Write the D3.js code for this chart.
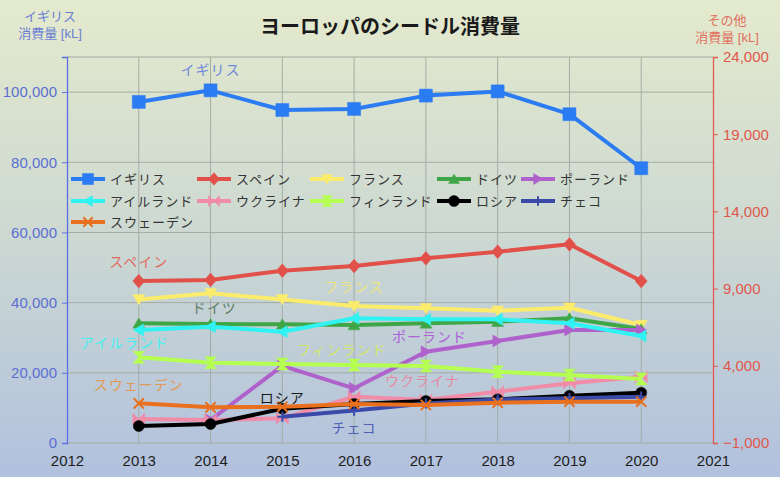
<!DOCTYPE html>
<html><head><meta charset="utf-8">
<script src="https://cdn.jsdelivr.net/npm/d3@7"></script>
<style>
body{margin:0;padding:0;}
svg{display:block;font-family:'Liberation Sans','Noto Sans CJK JP',sans-serif;}
</style></head>
<body><svg id="c" width="780" height="477"></svg>
<script>
// ---- data ----
const years = [2013, 2014, 2015, 2016, 2017, 2018, 2019, 2020];
const xTicks = [2012, 2013, 2014, 2015, 2016, 2017, 2018, 2019, 2020, 2021];
const leftTicks = [0, 20000, 40000, 60000, 80000, 100000];
const rightTicks = [-1000, 4000, 9000, 14000, 19000, 24000];
const seriesNames = ["イギリス","スペイン","フランス","ドイツ","ポーランド","アイルランド","ウクライナ","フィンランド","ロシア","チェコ","スウェーデン"];
const uk      = [97200, 100500, 94900, 95200, 99000, 100200, 93700, 78300];
const spain   = [9490, 9560, 10160, 10460, 10960, 11390, 11870, 9490];
const france  = [8300, 8700, 8300, 7870, 7720, 7570, 7760, 6640];
const germany = [6750, 6710, 6690, 6640, 6750, 6860, 7080, 6380];
const poland  = [null, 490, 3990, 2540, 4910, 5610, 6320, 6320];
const ireland = [6320, 6530, 6210, 7080, 7010, 7010, 6750, 5930];
const ukraine = [550, 490, 600, 2000, 1790, 2320, 2870, 3290];
const finland = [4550, 4200, 4120, 4050, 3990, 3620, 3400, 3150];
const russia  = [100, 230, 1220, 1530, 1720, 1830, 2060, 2260];
const czech   = [null, null, 700, 1100, 1560, 1820, 1900, 2000];
const sweden  = [1570, 1310, 1350, 1530, 1460, 1610, 1675, 1675];
const seriesValues = [uk, spain, france, germany, poland, ireland, ukraine, finland, russia, czech, sweden];
const lineColors = ["#2b7cf2","#e2504a","#fbec6c","#3fa648","#b062cc","#30f2f2","#f08ca8","#b4ff50","#000000","#3a4aa8","#e8701e"];
const labelColors = ["#6f88d8","#e06c60","#ece47a","#5e7c66","#b060d8","#3ff2ee","#e48aa4","#d4e66a","#1a1a1a","#5060b8","#e09a58"];
const markerTypes = ["square","diamond","down","up","right","left","bowtie","hourglass","circle","plus","x"];
// in-plot label anchor (year, axis value)
const labelAt = [[2014.0,106300],[2013.0,10720],[2016.0,9100],[2014.05,7750],[2017.05,5870],[2012.8,5480],[2016.95,3020],[2015.83,5020],[2015.0,1900],[2016.0,-30],[2013.0,2760]];

// ---- layout ----
const svg = d3.select("#c");
const W = 780, H = 477;
const x = d3.scaleLinear().domain([2012, 2021]).range([67, 713]);
const yL = d3.scaleLinear().domain([0, 110000]).range([443, 57]);
const yR = d3.scaleLinear().domain([-1000, 24000]).range([443, 57]);
const fmt = d3.format(",");

const defs = svg.append("defs");
const lg = defs.append("linearGradient").attr("id","bg").attr("x1",0).attr("y1",0).attr("x2",0).attr("y2",1);
lg.append("stop").attr("offset","0").attr("stop-color","#e4eacd");
lg.append("stop").attr("offset","0.5").attr("stop-color","#ccd8d2");
lg.append("stop").attr("offset","1").attr("stop-color","#b1c1de");
svg.append("rect").attr("width",W).attr("height",H).attr("fill","url(#bg)");

// grid
const g = svg.append("g");
g.selectAll(".hg").data(leftTicks.concat([110000])).enter().append("line")
  .attr("x1",x(2012)).attr("x2",x(2021)).attr("y1",d=>yL(d)).attr("y2",d=>yL(d))
  .attr("stroke","#a4aca4").attr("stroke-width",1);
g.selectAll(".vg").data(years).enter().append("line")
  .attr("x1",d=>x(d)).attr("x2",d=>x(d)).attr("y1",yL(110000)).attr("y2",yL(0))
  .attr("stroke","#a4aca4").attr("stroke-width",1);

// axes
const axL = svg.append("g").attr("transform",`translate(${x(2012)},0)`)
  .call(d3.axisLeft(yL).tickValues(leftTicks).tickFormat(fmt).tickSize(5).tickPadding(5));
axL.select(".domain").attr("stroke","#5a6ee6").attr("stroke-width",1.3);
axL.selectAll(".tick line").attr("stroke","#5a6ee6");
axL.selectAll("text").attr("fill","#5b6fd2").style("font-size","15px").style("font-family","'Liberation Sans',sans-serif");

const axR = svg.append("g").attr("transform",`translate(${x(2021)},0)`)
  .call(d3.axisRight(yR).tickValues(rightTicks).tickFormat(fmt).tickSize(5).tickPadding(5));
axR.select(".domain").attr("stroke","#e05a4e").attr("stroke-width",1.3);
axR.selectAll(".tick line").attr("stroke","#e05a4e");
axR.selectAll("text").attr("fill","#e0584c").style("font-size","15px").style("font-family","'Liberation Sans',sans-serif");

const axB = svg.append("g").attr("transform",`translate(0,${yL(0)})`)
  .call(d3.axisBottom(x).tickValues(xTicks).tickFormat(d3.format("d")).tickSize(0).tickPadding(12));
axB.select(".domain").remove();
axB.selectAll("text").attr("fill","#1e1e1e").style("font-size","15px").style("font-family","'Liberation Sans',sans-serif");

// titles
svg.append("text").attr("x",390).attr("y",27).attr("text-anchor","middle").attr("dominant-baseline","central")
  .style("font-size","20px").style("font-weight","bold").attr("fill","#1a1a1a").text("ヨーロッパのシードル消費量");
svg.append("text").attr("x",50).attr("y",16).attr("text-anchor","middle").attr("dominant-baseline","central")
  .style("font-size","13px").attr("fill","#6a7ed4").text("イギリス");
svg.append("text").attr("x",50).attr("y",33).attr("text-anchor","middle").attr("dominant-baseline","central")
  .style("font-size","13px").attr("fill","#6a7ed4").text("消費量 [kL]");
svg.append("text").attr("x",727).attr("y",20).attr("text-anchor","middle").attr("dominant-baseline","central")
  .style("font-size","13px").attr("fill","#e0705e").text("その他");
svg.append("text").attr("x",727).attr("y",37).attr("text-anchor","middle").attr("dominant-baseline","central")
  .style("font-size","13px").attr("fill","#e0705e").text("消費量 [kL]");

// marker path generator
function markerPath(type, s) {
  const h = s/2;
  const p = d3.path();
  switch(type){
    case "square": p.rect(-h,-h,s,s); break;
    case "diamond": p.moveTo(0,-h*1.15); p.lineTo(h,0); p.lineTo(0,h*1.15); p.lineTo(-h,0); p.closePath(); break;
    case "down": p.moveTo(-h,-h*0.8); p.lineTo(h,-h*0.8); p.lineTo(0,h*0.9); p.closePath(); break;
    case "up": p.moveTo(-h,h*0.8); p.lineTo(h,h*0.8); p.lineTo(0,-h*0.9); p.closePath(); break;
    case "right": p.moveTo(-h*0.8,-h); p.lineTo(-h*0.8,h); p.lineTo(h*0.9,0); p.closePath(); break;
    case "left": p.moveTo(h*0.8,-h); p.lineTo(h*0.8,h); p.lineTo(-h*0.9,0); p.closePath(); break;
    case "bowtie": p.moveTo(-h,-h); p.lineTo(0,0); p.lineTo(-h,h); p.closePath(); p.moveTo(h,-h); p.lineTo(0,0); p.lineTo(h,h); p.closePath(); break;
    case "hourglass": p.moveTo(-h,-h); p.lineTo(h,-h); p.lineTo(0,0); p.closePath(); p.moveTo(-h,h); p.lineTo(h,h); p.lineTo(0,0); p.closePath(); break;
    case "circle": p.arc(0,0,h,0,2*Math.PI); break;
    case "plus": p.moveTo(-h,0); p.lineTo(h,0); p.moveTo(0,-h); p.lineTo(0,h); break;
    case "x": p.moveTo(-h,-h); p.lineTo(h,h); p.moveTo(h,-h); p.lineTo(-h,h); break;
  }
  return p.toString();
}
function drawMarker(sel, type, color, s) {
  const stroked = (type==="plus"||type==="x");
  sel.append("path").attr("d", markerPath(type, stroked ? s*0.85 : s))
    .attr("fill", stroked ? "none" : color)
    .attr("stroke", color).attr("stroke-width", stroked ? 2 : 0.5);
}

// series
const lineLayer = svg.append("g");
seriesValues.forEach((vals, i) => {
  const y = i === 0 ? yL : yR;
  const pts = years.map((yr, k) => ({yr, v: vals[k]})).filter(d => d.v !== null);
  const line = d3.line().x(d => x(d.yr)).y(d => y(d.v));
  const sg = lineLayer.append("g");
  sg.append("path").datum(pts).attr("d", line).attr("fill","none")
    .attr("stroke", lineColors[i]).attr("stroke-width", 4).attr("stroke-linejoin","round");
  const size = (i===0) ? 13 : (markerTypes[i]==="circle" ? 11 : 12);
  pts.forEach(d => {
    const m = sg.append("g").attr("transform", `translate(${x(d.yr)},${y(d.v)})`);
    drawMarker(m, markerTypes[i], lineColors[i], size);
  });
});

// in-plot labels
seriesNames.forEach((n, i) => {
  const y = i === 0 ? yL : yR;
  svg.append("text").attr("x", x(labelAt[i][0])).attr("y", y(labelAt[i][1]))
    .attr("text-anchor","middle").attr("dominant-baseline","central")
    .style("font-size","14px").style("letter-spacing","1px").attr("fill", labelColors[i]).text(n);
});

// legend
const legCols = [71, 197, 310, 437, 521];
const legRows = [179, 201, 222];
const leg = svg.append("g");
seriesNames.forEach((n, i) => {
  const cx = legCols[i % 5], cy = legRows[Math.floor(i / 5)];
  const it = leg.append("g").attr("transform", `translate(${cx},${cy})`);
  it.append("line").attr("x1",0).attr("x2",34).attr("y1",0).attr("y2",0)
    .attr("stroke", lineColors[i]).attr("stroke-width",4);
  const m = it.append("g").attr("transform","translate(17,0)");
  drawMarker(m, markerTypes[i], lineColors[i], 11);
  it.append("text").attr("x", 39).attr("y", 0).attr("dominant-baseline","central")
    .style("font-size","13px").style("letter-spacing","1px").attr("fill","#333").text(n);
});
</script></body></html>
